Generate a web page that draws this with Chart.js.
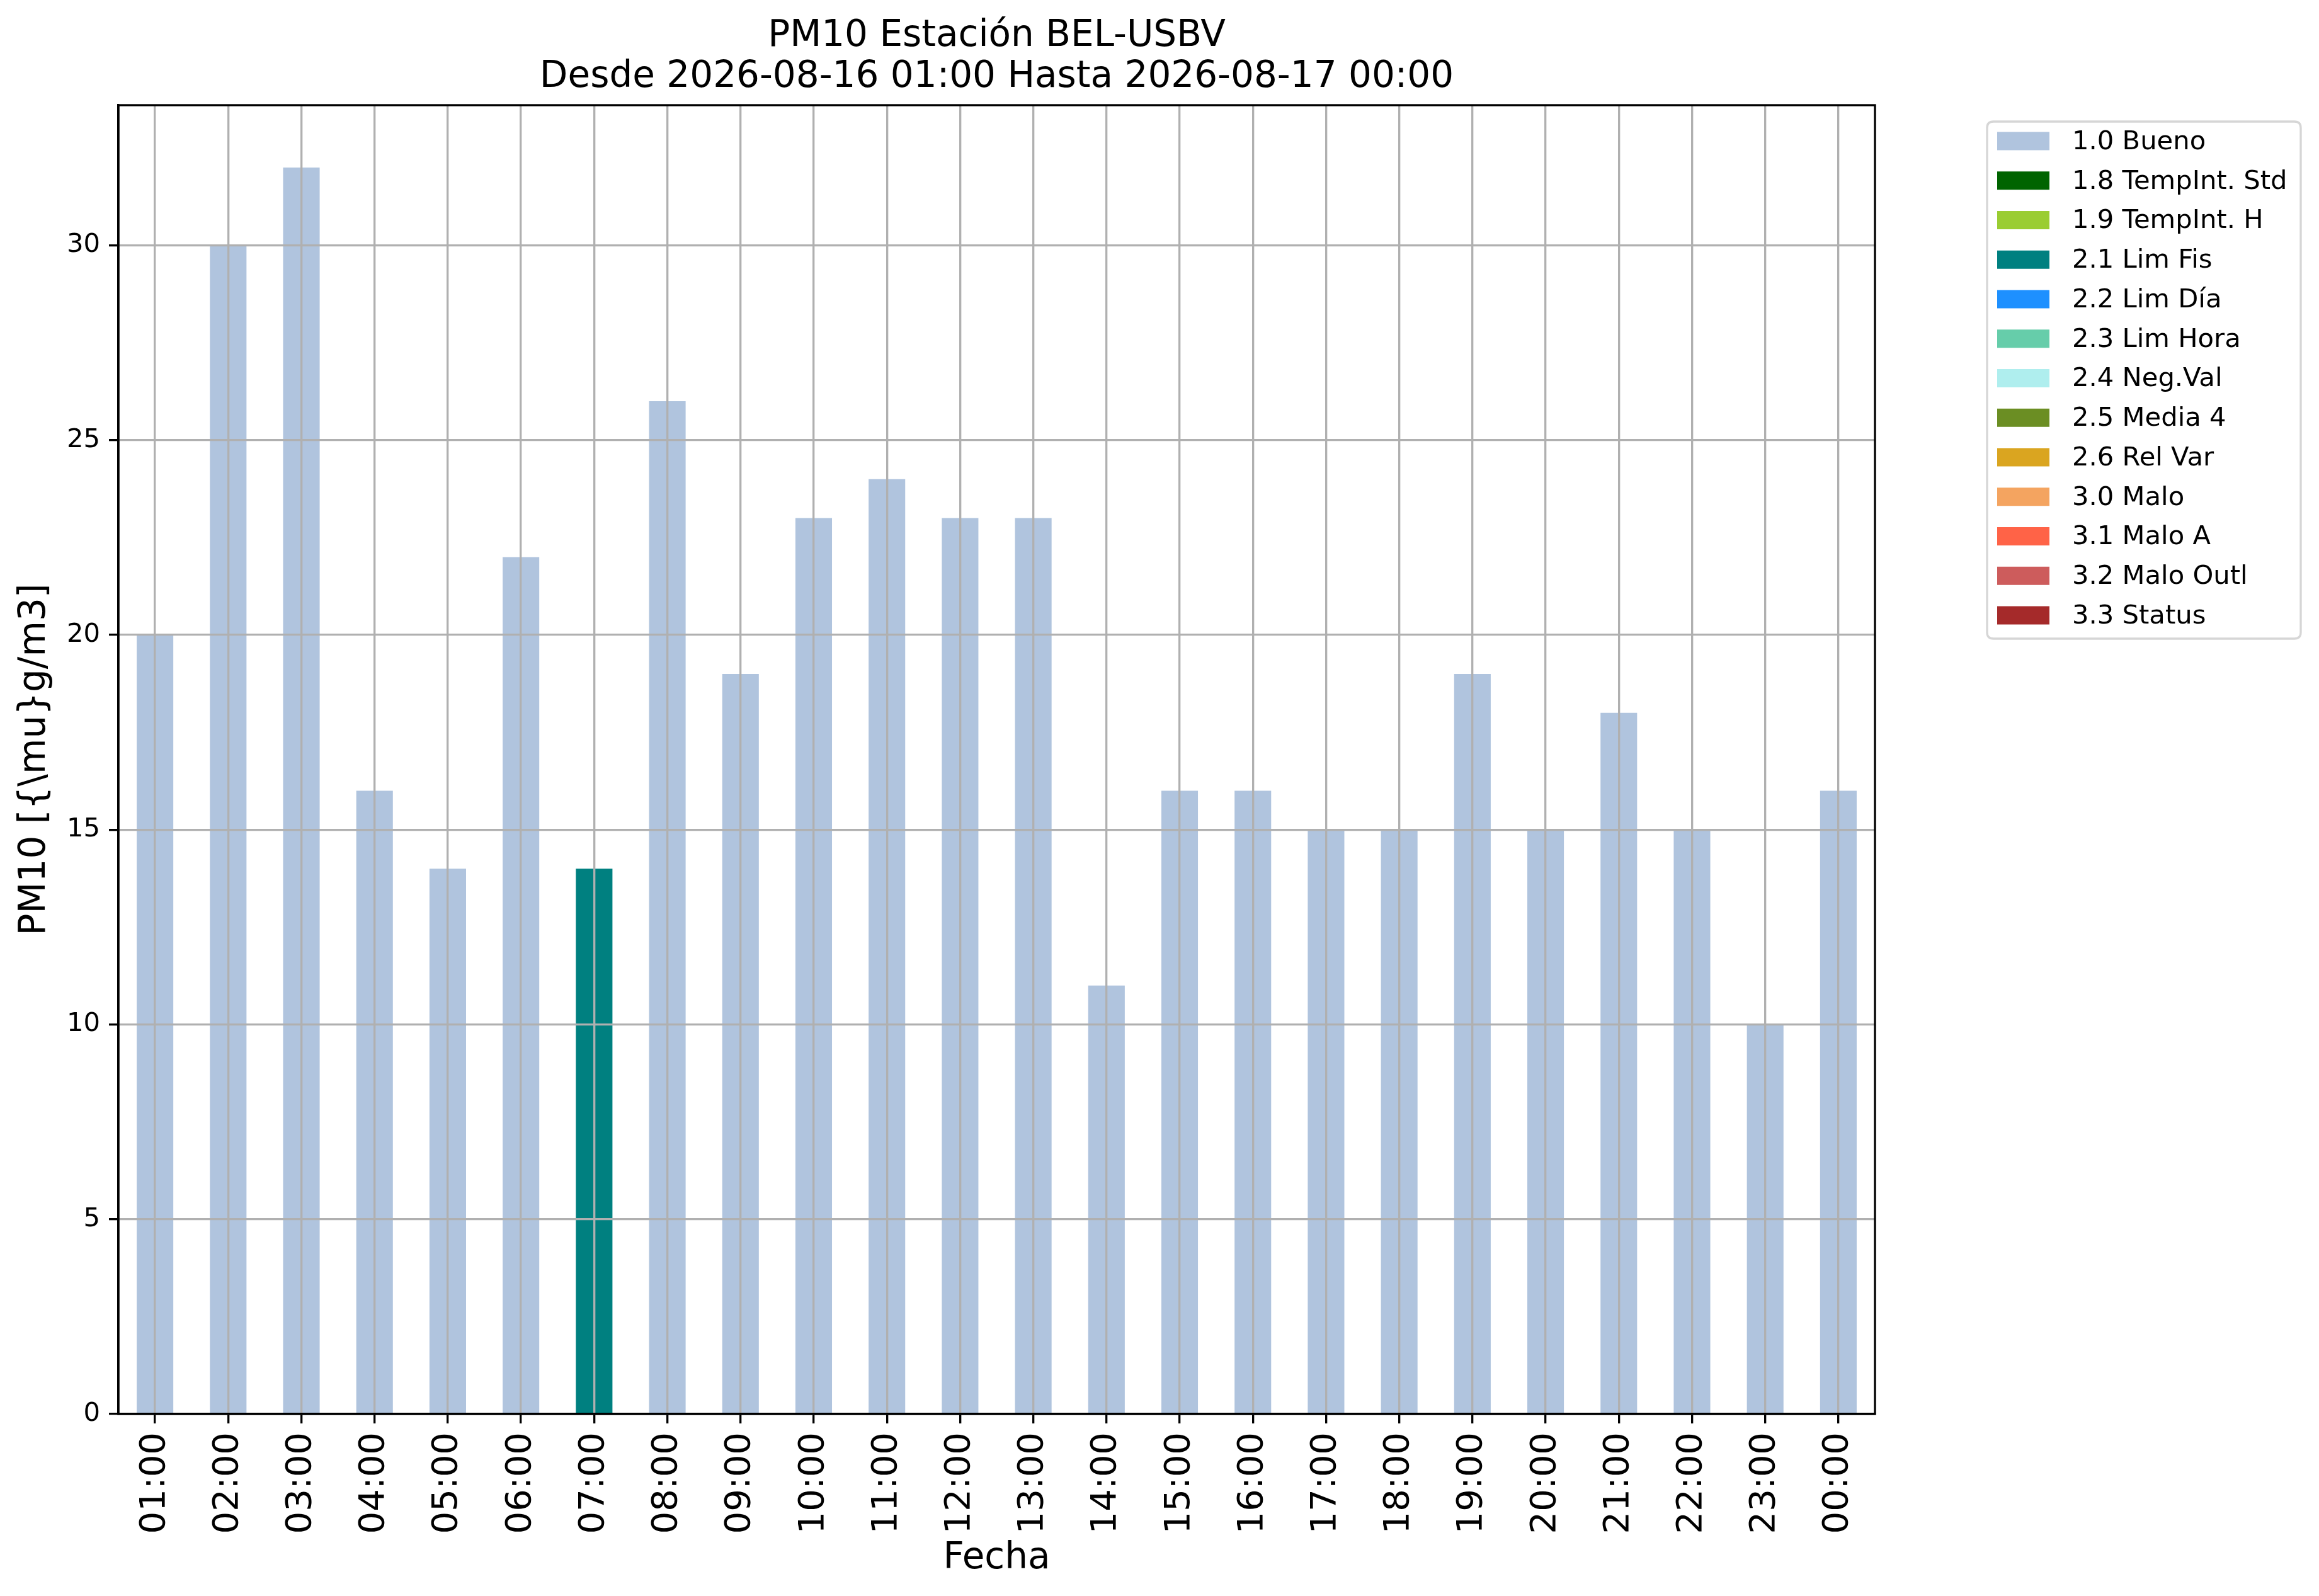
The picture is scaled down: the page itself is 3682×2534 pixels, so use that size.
<!DOCTYPE html>
<html>
<head>
<meta charset="utf-8">
<script src="https://cdn.jsdelivr.net/npm/chart.js@4/dist/chart.umd.min.js"></script>
<style>
  html, body { margin: 0; padding: 0; background: #fff; }
  canvas { display: block; }
</style>
</head>
<body>
<canvas id="myChart" width="3682" height="2534" style="width:3682px;height:2534px"></canvas>
<script>
// hours on the x axis
const hours = ["01:00", "02:00", "03:00", "04:00", "05:00", "06:00", "07:00", "08:00",
  "09:00", "10:00", "11:00", "12:00", "13:00", "14:00", "15:00", "16:00",
  "17:00", "18:00", "19:00", "20:00", "21:00", "22:00", "23:00", "00:00"];

// PM10 value per hour
const pm10 = [20, 30, 32, 16, 14, 22, 14, 26, 19, 23, 24, 23, 23, 11, 16, 16,
  15, 15, 19, 15, 18, 15, 10, 16];

// validation flag per hour
const hourFlag = ["1.0", "1.0", "1.0", "1.0", "1.0", "1.0", "2.1", "1.0",
  "1.0", "1.0", "1.0", "1.0", "1.0", "1.0", "1.0", "1.0",
  "1.0", "1.0", "1.0", "1.0", "1.0", "1.0", "1.0", "1.0"];

// flag codes, names and colours
const flagCodes = ["1.0", "1.8", "1.9", "2.1", "2.2", "2.3", "2.4", "2.5", "2.6", "3.0", "3.1", "3.2", "3.3"];
const flagNames = ["Bueno", "TempInt. Std", "TempInt. H", "Lim Fis", "Lim Día", "Lim Hora",
  "Neg.Val", "Media 4", "Rel Var", "Malo", "Malo A", "Malo Outl", "Status"];
const flagColors = ["#b0c4de", "#006400", "#9acd32", "#008080", "#1e90ff", "#66cdaa",
  "#afeeee", "#6b8e23", "#daa520", "#f4a460", "#ff6347", "#cd5c5c", "#a52a2a"];

const yTicks = [0, 5, 10, 15, 20, 25, 30];

const LW = 3.33; // 0.8pt at 300 dpi

Chart.defaults.font.family = "'DejaVu Sans', sans-serif";
Chart.defaults.color = "#000";

const datasets = flagCodes.map(function (code, i) {
  return {
    label: code + " " + flagNames[i],
    backgroundColor: flagColors[i],
    borderWidth: 0,
    barPercentage: 0.5,
    categoryPercentage: 1.0,
    data: pm10.map(function (v, j) { return hourFlag[j] === code ? v : null; })
  };
});

// title, frame and legend drawn like the matplotlib figure
const extras = {
  id: "extras",
  afterDraw: function (chart) {
    const ctx = chart.ctx;
    const area = chart.chartArea;
    ctx.save();

    // axes frame
    ctx.strokeStyle = "#000";
    ctx.lineWidth = LW;
    ctx.strokeRect(area.left, area.top, area.right - area.left, area.bottom - area.top);

    // title
    ctx.fillStyle = "#000";
    ctx.font = "58px 'DejaVu Sans'";
    ctx.textAlign = "center";
    ctx.textBaseline = "middle";
    const cx = (area.left + area.right) / 2;
    ctx.fillText("PM10 Estación BEL-USBV", cx, 58);
    ctx.fillText("Desde 2026-08-16 01:00 Hasta 2026-08-17 00:00", cx, 123);

    // legend box
    const lx = 3155, ly = 193, lw = 498, lh = 821, r = 10;
    ctx.beginPath();
    ctx.moveTo(lx + r, ly);
    ctx.lineTo(lx + lw - r, ly);
    ctx.quadraticCurveTo(lx + lw, ly, lx + lw, ly + r);
    ctx.lineTo(lx + lw, ly + lh - r);
    ctx.quadraticCurveTo(lx + lw, ly + lh, lx + lw - r, ly + lh);
    ctx.lineTo(lx + r, ly + lh);
    ctx.quadraticCurveTo(lx, ly + lh, lx, ly + lh - r);
    ctx.lineTo(lx, ly + r);
    ctx.quadraticCurveTo(lx, ly, lx + r, ly);
    ctx.closePath();
    ctx.fillStyle = "rgba(255,255,255,0.8)";
    ctx.fill();
    ctx.strokeStyle = "#d6d6d6";
    ctx.lineWidth = LW;
    ctx.stroke();

    ctx.font = "41.7px 'DejaVu Sans'";
    ctx.textAlign = "left";
    chart.data.datasets.forEach(function (ds, i) {
      const y = 224 + i * 62.75;
      ctx.fillStyle = ds.backgroundColor;
      ctx.fillRect(3171, y - 14.5, 83, 29);
      ctx.fillStyle = "#000";
      ctx.fillText(ds.label, 3290, y + 2);
    });

    ctx.restore();
  }
};

var ctx = document.getElementById("myChart").getContext("2d");
var chart = new Chart(ctx, {
  type: "bar",
  data: {
    labels: hours,
    datasets: datasets
  },
  options: {
    responsive: false,
    devicePixelRatio: 1,
    animation: false,
    layout: {
      padding: { left: 0, top: 167, right: 705, bottom: 0 }
    },
    plugins: {
      legend: { display: false },
      title: { display: false },
      tooltip: { enabled: false }
    },
    scales: {
      x: {
        stacked: true,
        afterFit: function (axis) { axis.height = 289; },
        grid: {
          z: 1,
          offset: false,
          color: "#b0b0b0",
          lineWidth: LW,
          tickColor: "#000",
          tickWidth: LW,
          tickLength: 15
        },
        border: { display: true, z: 2, color: "#000", width: LW },
        ticks: {
          z: 2,
          autoSkip: false,
          minRotation: 90,
          maxRotation: 90,
          padding: 14,
          font: { size: 56 }
        },
        title: {
          display: true,
          text: "Fecha",
          font: { size: 58 },
          padding: { top: 0, bottom: 24 }
        }
      },
      y: {
        stacked: true,
        min: 0,
        max: 33.6,
        afterFit: function (axis) { axis.width = 188; },
        afterBuildTicks: function (axis) {
          axis.ticks = yTicks.map(function (v) { return { value: v }; });
        },
        grid: {
          z: 1,
          color: "#b0b0b0",
          lineWidth: LW,
          tickColor: "#000",
          tickWidth: LW,
          tickLength: 15
        },
        border: { display: true, z: 2, color: "#000", width: LW },
        ticks: {
          z: 2,
          padding: 14,
          font: { size: 41.7 }
        },
        title: {
          display: true,
          text: "PM10 [{\\mu}g/m3]",
          font: { size: 58 },
          padding: { top: 21, bottom: 0 }
        }
      }
    }
  },
  plugins: [extras]
});
</script>
</body>
</html>
